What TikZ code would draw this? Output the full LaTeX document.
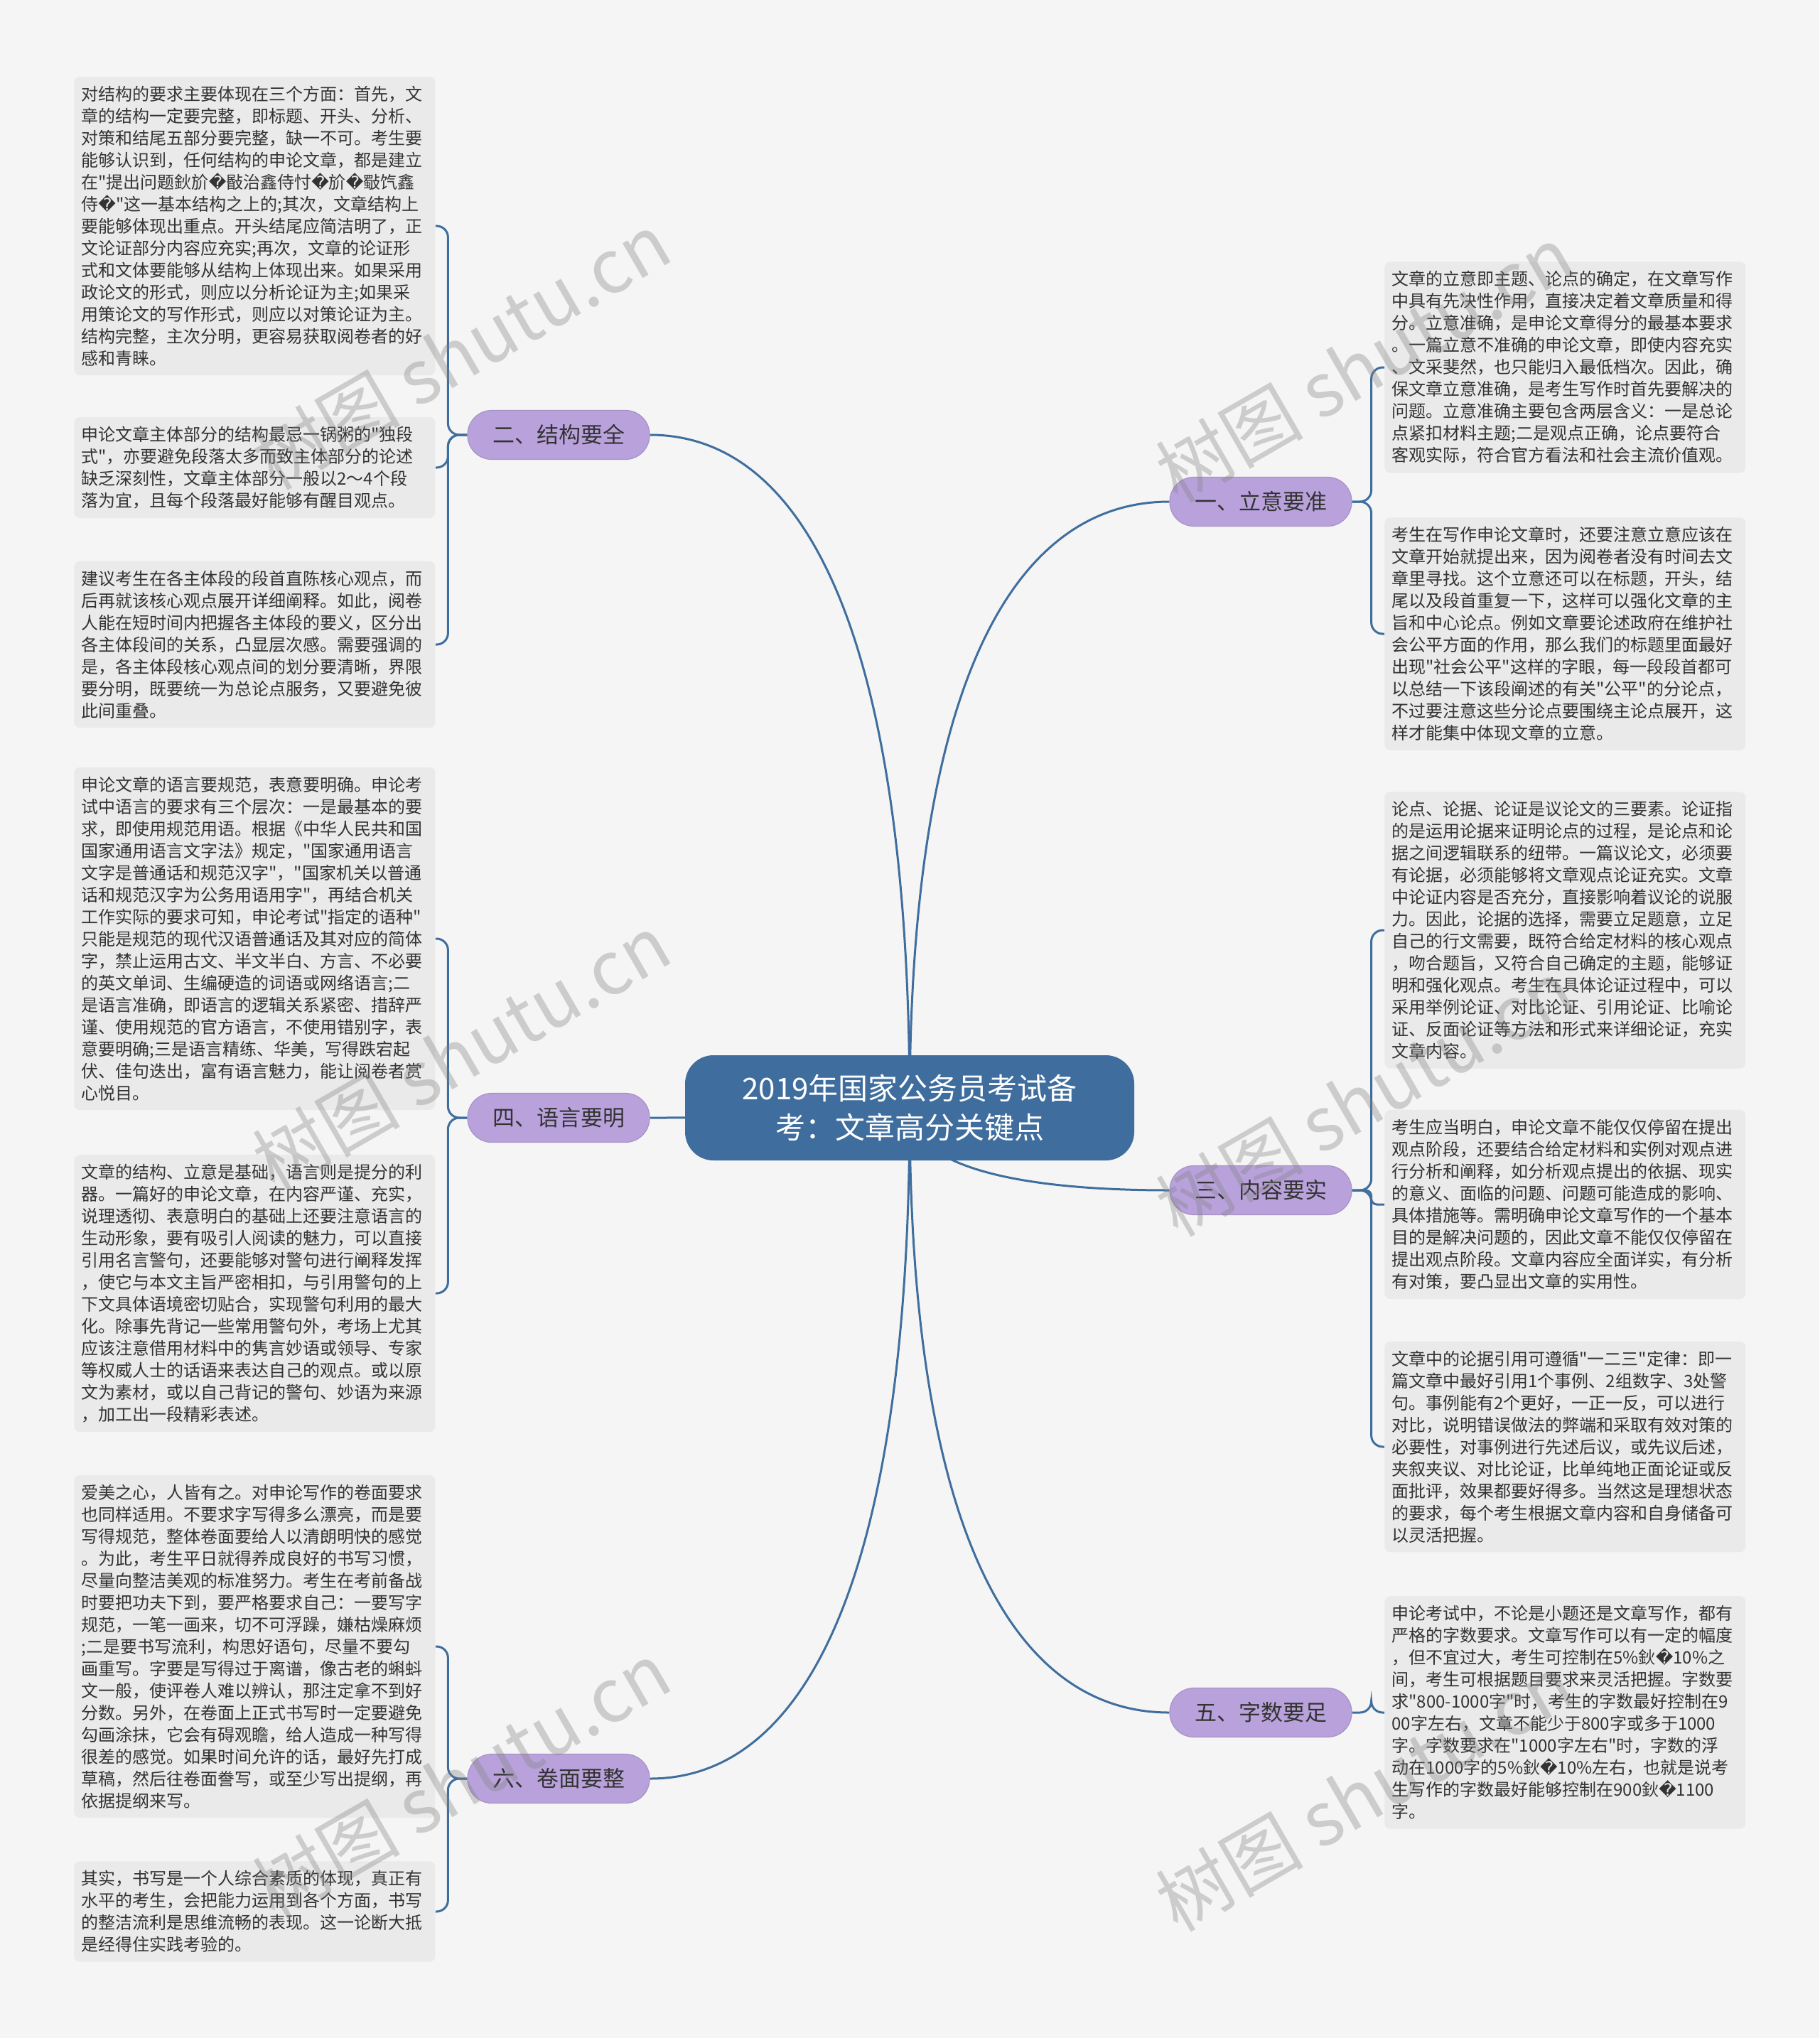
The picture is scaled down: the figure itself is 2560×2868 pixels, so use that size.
\documentclass[tikz,border=0pt]{standalone}
\usepackage{fontspec}
\setmainfont{Noto Sans CJK SC}
\newfontfamily\cjkfont{Noto Sans CJK SC}
\newfontfamily\symfont{DejaVu Sans}
\usetikzlibrary{positioning,calc,backgrounds}
\definecolor{mapbg}{HTML}{F5F5F5}
\definecolor{rootblue}{HTML}{3F6E9E}
\definecolor{lilac}{HTML}{B9A2DC}
\definecolor{notegrey}{HTML}{EAEAEA}
\definecolor{inkgrey}{HTML}{333333}
\newcommand\badch{{\symfont\char"FFFD}}
\tikzset{
  root/.style  = {fill=rootblue, text=white, rounded corners=20pt, minimum width=316pt,
                  minimum height=74pt, align=center, font=\cjkfont\fontsize{21}{27.5}\selectfont},
  topic/.style = {fill=lilac, draw=lilac!90!black, line width=0.6pt, text=inkgrey,
                  rounded corners=17pt, minimum width=128pt, minimum height=34.5pt,
                  font=\cjkfont\fontsize{15.5}{18}\selectfont},
  note/.style  = {fill=notegrey, rounded corners=4pt, text width=244pt, inner xsep=5pt,
                  inner ysep=6.5pt, align=left, text=inkgrey, anchor=west,
                  font=\cjkfont\fontsize{12}{15.5}\selectfont},
  link/.style  = {draw=rootblue, line width=1.5pt},
  twig/.style  = {link, rounded corners=8pt},
  wmark/.style = {text=gray, text opacity=0.35, rotate=30, inner sep=0pt,
                  font=\cjkfont\fontsize{52}{60}\selectfont},
}
\begin{document}
\begin{tikzpicture}[x=0.5pt, y=-0.5pt]
  \useasboundingbox (0,0) rectangle (2560,2868);
  \node[root] (root) at (1280,1559) {2019年国家公务员考试备\\考：文章高分关键点};
  % main topics
  \node[topic] (t2) at (786,612)   {二、结构要全};
  \node[topic] (t4) at (786,1573)  {四、语言要明};
  \node[topic] (t6) at (786,2503)  {六、卷面要整};
  \node[topic] (t1) at (1774,706)  {一、立意要准};
  \node[topic] (t3) at (1774,1675) {三、内容要实};
  \node[topic] (t5) at (1774,2410) {五、字数要足};
  % notes, left side
  \node[note] (n2a) at (104,318) {对结构的要求主要体现在三个方面：首先，文\\章的结构一定要完整，即标题、开头、分析、\\对策和结尾五部分要完整，缺一不可。考生要\\能够认识到，任何结构的申论文章，都是建立\\在"提出问题鈥斺\badch 敯治鑫侍忖\badch 斺\badch 斀饩鑫\\侍\badch"这一基本结构之上的;其次，文章结构上\\要能够体现出重点。开头结尾应简洁明了，正\\文论证部分内容应充实;再次，文章的论证形\\式和文体要能够从结构上体现出来。如果采用\\政论文的形式，则应以分析论证为主;如果采\\用策论文的写作形式，则应以对策论证为主。\\结构完整，主次分明，更容易获取阅卷者的好\\感和青睐。};
  \node[note] (n2b) at (104,658) {申论文章主体部分的结构最忌一锅粥的"独段\\式"，亦要避免段落太多而致主体部分的论述\\缺乏深刻性，文章主体部分一般以2～4个段\\落为宜，且每个段落最好能够有醒目观点。};
  \node[note] (n2c) at (104,907) {建议考生在各主体段的段首直陈核心观点，而\\后再就该核心观点展开详细阐释。如此，阅卷\\人能在短时间内把握各主体段的要义，区分出\\各主体段间的关系，凸显层次感。需要强调的\\是，各主体段核心观点间的划分要清晰，界限\\要分明，既要统一为总论点服务，又要避免彼\\此间重叠。};
  \node[note] (n4a) at (104,1321) {申论文章的语言要规范，表意要明确。申论考\\试中语言的要求有三个层次：一是最基本的要\\求，即使用规范用语。根据《中华人民共和国\\国家通用语言文字法》规定，"国家通用语言\\文字是普通话和规范汉字"，"国家机关以普通\\话和规范汉字为公务用语用字"，再结合机关\\工作实际的要求可知，申论考试"指定的语种"\\只能是规范的现代汉语普通话及其对应的简体\\字，禁止运用古文、半文半白、方言、不必要\\的英文单词、生编硬造的词语或网络语言;二\\是语言准确，即语言的逻辑关系紧密、措辞严\\谨、使用规范的官方语言，不使用错别字，表\\意要明确;三是语言精练、华美，写得跌宕起\\伏、佳句迭出，富有语言魅力，能让阅卷者赏\\心悦目。};
  \node[note] (n4b) at (104,1820) {文章的结构、立意是基础，语言则是提分的利\\器。一篇好的申论文章，在内容严谨、充实，\\说理透彻、表意明白的基础上还要注意语言的\\生动形象，要有吸引人阅读的魅力，可以直接\\引用名言警句，还要能够对警句进行阐释发挥\\，使它与本文主旨严密相扣，与引用警句的上\\下文具体语境密切贴合，实现警句利用的最大\\化。除事先背记一些常用警句外，考场上尤其\\应该注意借用材料中的隽言妙语或领导、专家\\等权威人士的话语来表达自己的观点。或以原\\文为素材，或以自己背记的警句、妙语为来源\\，加工出一段精彩表述。};
  \node[note] (n6a) at (104,2317) {爱美之心，人皆有之。对申论写作的卷面要求\\也同样适用。不要求字写得多么漂亮，而是要\\写得规范，整体卷面要给人以清朗明快的感觉\\。为此，考生平日就得养成良好的书写习惯，\\尽量向整洁美观的标准努力。考生在考前备战\\时要把功夫下到，要严格要求自己：一要写字\\规范，一笔一画来，切不可浮躁，嫌枯燥麻烦\\;二是要书写流利，构思好语句，尽量不要勾\\画重写。字要是写得过于离谱，像古老的蝌蚪\\文一般，使评卷人难以辨认，那注定拿不到好\\分数。另外，在卷面上正式书写时一定要避免\\勾画涂抹，它会有碍观瞻，给人造成一种写得\\很差的感觉。如果时间允许的话，最好先打成\\草稿，然后往卷面誊写，或至少写出提纲，再\\依据提纲来写。};
  \node[note] (n6b) at (104,2690) {其实，书写是一个人综合素质的体现，真正有\\水平的考生，会把能力运用到各个方面，书写\\的整洁流利是思维流畅的表现。这一论断大抵\\是经得住实践考验的。};
  % notes, right side
  \node[note] (n1a) at (1948,517) {文章的立意即主题、论点的确定，在文章写作\\中具有先决性作用，直接决定着文章质量和得\\分。立意准确，是申论文章得分的最基本要求\\。一篇立意不准确的申论文章，即使内容充实\\、文采斐然，也只能归入最低档次。因此，确\\保文章立意准确，是考生写作时首先要解决的\\问题。立意准确主要包含两层含义：一是总论\\点紧扣材料主题;二是观点正确，论点要符合\\客观实际，符合官方看法和社会主流价值观。};
  \node[note] (n1b) at (1948,892) {考生在写作申论文章时，还要注意立意应该在\\文章开始就提出来，因为阅卷者没有时间去文\\章里寻找。这个立意还可以在标题，开头，结\\尾以及段首重复一下，这样可以强化文章的主\\旨和中心论点。例如文章要论述政府在维护社\\会公平方面的作用，那么我们的标题里面最好\\出现"社会公平"这样的字眼，每一段段首都可\\以总结一下该段阐述的有关"公平"的分论点，\\不过要注意这些分论点要围绕主论点展开，这\\样才能集中体现文章的立意。};
  \node[note] (n3a) at (1948,1309) {论点、论据、论证是议论文的三要素。论证指\\的是运用论据来证明论点的过程，是论点和论\\据之间逻辑联系的纽带。一篇议论文，必须要\\有论据，必须能够将文章观点论证充实。文章\\中论证内容是否充分，直接影响着议论的说服\\力。因此，论据的选择，需要立足题意，立足\\自己的行文需要，既符合给定材料的核心观点\\，吻合题旨，又符合自己确定的主题，能够证\\明和强化观点。考生在具体论证过程中，可以\\采用举例论证、对比论证、引用论证、比喻论\\证、反面论证等方法和形式来详细论证，充实\\文章内容。};
  \node[note] (n3b) at (1948,1695) {考生应当明白，申论文章不能仅仅停留在提出\\观点阶段，还要结合给定材料和实例对观点进\\行分析和阐释，如分析观点提出的依据、现实\\的意义、面临的问题、问题可能造成的影响、\\具体措施等。需明确申论文章写作的一个基本\\目的是解决问题的，因此文章不能仅仅停留在\\提出观点阶段。文章内容应全面详实，有分析\\有对策，要凸显出文章的实用性。};
  \node[note] (n3c) at (1948,2036) {文章中的论据引用可遵循"一二三"定律：即一\\篇文章中最好引用1个事例、2组数字、3处警\\句。事例能有2个更好，一正一反，可以进行\\对比，说明错误做法的弊端和采取有效对策的\\必要性，对事例进行先述后议，或先议后述，\\夹叙夹议、对比论证，比单纯地正面论证或反\\面批评，效果都要好得多。当然这是理想状态\\的要求，每个考生根据文章内容和自身储备可\\以灵活把握。};
  \node[note] (n5a) at (1948,2410) {申论考试中，不论是小题还是文章写作，都有\\严格的字数要求。文章写作可以有一定的幅度\\，但不宜过大，考生可控制在5\%鈥\badch 10\%之\\间，考生可根据题目要求来灵活把握。字数要\\求"\mbox{800-1000}字"时，考生的字数最好控制在9\\00字左右，文章不能少于800字或多于1000\\字。字数要求在"1000字左右"时，字数的浮\\动在1000字的5\%鈥\badch 10\%左右，也就是说考\\生写作的字数最好能够控制在900鈥\badch 1100\\字。};
  % connectors
  \begin{scope}[on background layer]
    \fill[mapbg] (0,0) rectangle (2560,2868);
    \foreach \t/\a in {t2/east,t4/east,t6/east,t1/west,t3/west,t5/west}
      \draw[link] (root.center)
        .. controls ($(root.center)!0.7!(root.center |- \t.\a)$)
        and ($(\t.\a)!0.6!(root.center |- \t.\a)$) .. (\t.\a);
    \foreach \t/\n in {t2/n2a,t2/n2b,t2/n2c,t4/n4a,t4/n4b,t6/n6a,t6/n6b}
      \draw[twig] (\t.west) -- ++(-27,0) |- (\n.east);
    \foreach \t/\n in {t1/n1a,t1/n1b,t3/n3a,t5/n5a}
      \draw[twig] (\t.east) -- ++(27,0) |- (\n.west);
    \draw[twig, rounded corners=4pt] (t3.east) -- ++(27,0) |- (n3b.west);
    \draw[twig] (t3.east) -- ++(27,0) |- (n3c.west);
  \end{scope}
  % watermarks
  \node[wmark] (w1) at (649,494)   {树图 shutu.cn};
  \node[wmark] (w2) at (649,1481)  {树图 shutu.cn};
  \node[wmark] (w3) at (649,2505)  {树图 shutu.cn};
  \node[wmark] (w4) at (1920,512)  {树图 shutu.cn};
  \node[wmark] (w5) at (1920,1545) {树图 shutu.cn};
  \node[wmark] (w6) at (1920,2523) {树图 shutu.cn};
\end{tikzpicture}
\end{document}
